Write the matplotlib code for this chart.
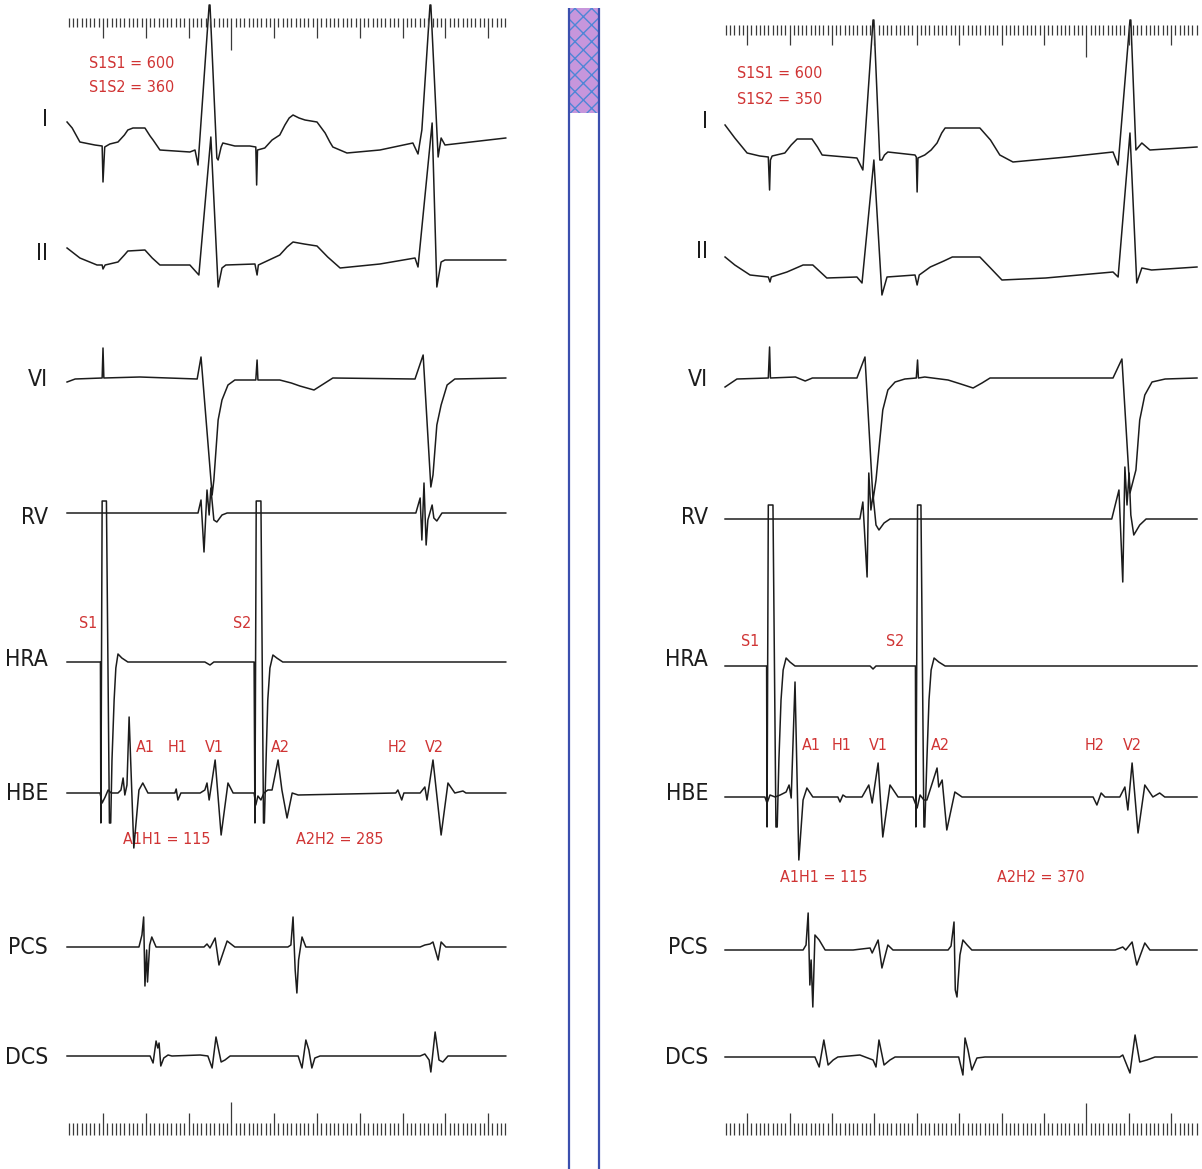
import numpy as np
import matplotlib.pyplot as plt
from matplotlib.patches import Rectangle

W, H = 1202, 1169

CHANNELS = ['I', 'II', 'VI', 'RV', 'HRA', 'HBE', 'PCS', 'DCS']

# ---- left tracing: S1S1 = 600, S1S2 = 360  (time in ms from S1, amplitude in a.u.)
L_I = [(-84, 23), (-72, 17), (-54, 3), (-19, 0), (-2, -1), (0, -37), (4, -2), (16, 1), (35, 3),
       (50, 10), (58, 15), (70, 17), (98, 17), (110, 9), (117, 5), (133, -5), (203, -7), (215, -5),
       (222, -20), (248, 140), (250, 140), (266, -13), (269, -15), (276, -2), (280, 2), (308, -1),
       (343, -1), (357, -2), (359, -40), (361, -5), (378, -3), (395, 5), (413, 10), (425, 20),
       (435, 27), (444, 30), (458, 27), (472, 25), (500, 23), (519, 12), (530, 3), (537, -2),
       (570, -8), (647, -5), (724, 2), (736, -9), (745, 15), (764, 140), (766, 140), (783, -12),
       (790, 7), (799, 0), (941, 7)]
L_II = [(-84, 15), (-54, 5), (-14, -2), (-2, -2), (0, -6), (5, -2), (35, 1), (50, 8), (58, 12),
        (98, 13), (115, 5), (133, -2), (203, -2), (224, -12), (252, 126), (269, -24), (278, -5),
        (287, -2), (355, -1), (360, -12), (363, -2), (378, 1), (413, 8), (430, 16), (444, 21),
        (470, 19), (500, 17), (525, 6), (554, -5), (647, -1), (729, 5), (736, -4), (769, 140),
        (780, -24), (790, 1), (799, 3), (941, 3)]
L_VI = [(-84, -4), (-65, -1), (-2, 0), (0, 30), (2, 0), (86, 1), (220, -1), (229, 21), (255, -117),
        (259, -102), (269, -42), (278, -22), (292, -7), (308, -2), (357, -2), (360, 18), (362, -2),
        (413, -2), (440, -5), (460, -8), (493, -12), (515, -6), (537, 0), (729, -1), (748, 23),
        (766, -109), (771, -97), (780, -47), (790, -27), (804, -7), (822, -1), (941, 0)]
L_RV = [(-84, 0), (222, 0), (229, 13), (236, -39), (243, 23), (248, -2), (252, 25), (259, -7),
        (266, -9), (278, -2), (290, 0), (731, 0), (741, 15), (745, -27), (750, 30), (755, -32),
        (759, -7), (769, 8), (773, -5), (780, -8), (792, 0), (941, 0)]
L_HRA = [(-84, 0), (-6, 0), (-5, -161), (-2, 161), (8, 161), (15, -161), (18, -161), (21, -98),
         (26, -38), (30, -6), (35, 8), (44, 4), (58, 0), (238, 0), (250, -3), (259, 0), (353, 0),
         (355, -161), (358, 161), (369, 161), (375, -161), (377, -161), (381, -98), (385, -38),
         (390, -6), (397, 7), (406, 4), (420, 0), (941, 0)]
L_HBE = [(-84, 0), (-7, 0), (-2, -10), (5, -4), (12, 3), (19, 0), (35, 0), (42, 3), (47, 15),
         (51, -2), (56, 8), (61, 76), (72, -55), (84, 3), (93, 10), (105, 0), (168, 0), (171, 4),
         (175, -7), (182, 0), (227, 0), (238, 3), (243, 10), (248, -7), (262, 33), (276, -42),
         (292, 10), (304, 0), (353, 0), (357, -12), (362, -3), (369, -7), (376, 0), (385, 3),
         (395, 3), (402, 18), (409, 33), (418, 3), (430, -25), (442, 0), (456, -2), (684, 0),
         (689, 3), (698, -7), (703, 0), (741, 0), (752, 6), (757, -7), (771, 33), (790, -42),
         (806, 10), (822, 0), (841, 2), (848, 0), (941, 0)]
L_PCS = [(-84, 0), (84, 0), (91, 12), (95, 30), (98, -39), (102, -3), (104, -35), (109, 2),
         (114, 10), (124, 0), (236, 0), (243, 3), (250, -1), (262, 9), (271, -18), (290, 6),
         (308, 0), (432, 0), (439, 2), (444, 30), (449, -23), (453, -46), (457, -13), (465, 10),
         (474, 0), (741, 0), (752, 2), (764, 3), (771, 5), (783, -13), (790, 5), (801, 0), (941, 0)]
L_DCS = [(-84, 0), (110, 0), (117, -7), (124, 15), (128, 8), (131, 13), (135, -10), (142, -2),
         (152, 1), (161, 0), (227, 1), (245, 0), (255, -12), (264, 19), (276, -6), (285, -4),
         (297, 0), (456, 0), (465, -12), (474, 16), (481, 6), (488, -12), (495, -2), (507, 0),
         (741, 0), (752, 2), (762, -4), (766, -16), (776, 24), (785, -4), (794, -6), (806, 0),
         (941, 0)]

# ---- right tracing: S1S1 = 600, S1S2 = 350
R_I = [(-106, 30), (-83, 17), (-54, 2), (-24, -1), (-4, -2), (-1, -35), (1, -5), (5, -1), (35, 2),
       (50, 10), (64, 16), (99, 16), (112, 8), (123, 0), (205, -3), (219, -15), (243, 135),
       (245, 135), (259, -5), (264, -5), (270, 0), (278, 3), (342, 0), (345, -2), (347, -37),
       (349, -3), (365, 0), (380, 5), (394, 12), (405, 22), (413, 27), (495, 27), (520, 15),
       (542, 0), (573, -7), (700, -2), (809, 3), (821, -10), (849, 135), (851, 135), (863, 5),
       (877, 12), (896, 5), (1007, 8)]
R_II = [(-106, 18), (-83, 10), (-47, 0), (-4, -2), (0, -7), (3, -2), (40, 3), (78, 10), (101, 10),
        (134, -3), (205, -2), (217, -8), (245, 115), (264, -20), (276, -2), (342, 0), (347, -10),
        (352, 0), (378, 8), (410, 14), (430, 18), (495, 18), (520, 7), (547, -5), (650, -3),
        (809, 3), (821, -2), (849, 142), (865, -8), (877, 7), (900, 5), (1007, 8)]
R_VI = [(-106, -9), (-78, -1), (-4, 0), (-1, 31), (1, 0), (60, 1), (83, -3), (100, 0), (205, 0),
        (224, 21), (243, -122), (250, -102), (259, -62), (266, -32), (278, -12), (295, -4),
        (318, -1), (345, 0), (348, 18), (350, 0), (365, 1), (420, -2), (450, -6), (479, -10),
        (500, -5), (519, 0), (809, 0), (830, 19), (849, -115), (863, -92), (872, -42), (884, -17),
        (901, -4), (932, -1), (1007, 0)]
R_RV = [(-106, 0), (212, 0), (219, 17), (229, -58), (233, 46), (238, 9), (243, 24), (250, -6),
        (257, -11), (269, -4), (283, 0), (806, 0), (823, 29), (832, -63), (837, 52), (842, 14),
        (847, 46), (851, 4), (858, -16), (872, -6), (887, 0), (1007, 0)]
R_HRA = [(-106, 0), (-8, 0), (-7, -161), (-4, 161), (7, 161), (14, -161), (17, -161), (21, -94),
         (26, -34), (31, -4), (38, 8), (47, 4), (59, 0), (236, 0), (243, -3), (250, 0), (343, 0),
         (344, -161), (348, 161), (356, 161), (363, -161), (365, -161), (370, -94), (375, -34),
         (380, -4), (387, 8), (398, 4), (413, 0), (1007, 0)]
R_HBE = [(-106, 0), (-12, 0), (-7, -6), (0, 2), (12, 0), (24, 2), (38, 5), (45, 12), (50, -1),
         (59, 115), (68, -63), (78, -3), (87, 9), (101, 0), (160, 0), (165, -5), (172, 2),
         (179, 0), (217, 0), (233, 12), (241, -6), (255, 34), (266, -40), (283, 12), (302, 0),
         (337, 0), (347, -11), (354, 2), (363, -3), (370, -3), (394, 29), (398, 10), (406, 17),
         (417, -33), (436, 5), (453, 0), (762, 0), (771, -8), (781, 4), (790, 0), (825, 0),
         (837, 10), (844, -13), (854, 34), (868, -36), (884, 12), (903, 0), (919, 4), (931, 0),
         (1007, 0)]
R_PCS = [(-106, 0), (78, 0), (85, 5), (90, 37), (94, -35), (97, -10), (101, -57), (106, 15),
         (116, 10), (130, 0), (196, 0), (236, 2), (241, -3), (255, 10), (264, -18), (278, 5),
         (290, 0), (420, 0), (427, 4), (434, 28), (437, -40), (441, -47), (448, -5), (455, 10),
         (465, 5), (476, 0), (814, 0), (832, 3), (839, 0), (854, 8), (865, -15), (884, 7),
         (896, 0), (1007, 0)]
R_DCS = [(-106, 0), (106, 0), (116, -10), (127, 17), (137, -8), (149, -3), (160, 0), (212, 2),
         (243, -3), (250, -10), (257, 17), (269, -8), (283, -3), (295, 0), (445, 0), (455, -18),
         (460, 19), (467, 7), (476, -13), (488, -1), (507, 0), (825, 0), (832, 2), (849, -16),
         (861, 22), (872, -5), (889, -3), (908, 0), (1007, 0)]

LEFT_TRACES = [L_I, L_II, L_VI, L_RV, L_HRA, L_HBE, L_PCS, L_DCS]
RIGHT_TRACES = [R_I, R_II, R_VI, R_RV, R_HRA, R_HBE, R_PCS, R_DCS]

LEFT_INTERVALS = ['S1S1 = 600', 'S1S2 = 360']
RIGHT_INTERVALS = ['S1S1 = 600', 'S1S2 = 350']
LEFT_CONDUCTION = ['A1H1 = 115', 'A2H2 = 285']
RIGHT_CONDUCTION = ['A1H1 = 115', 'A2H2 = 370']
EVENTS = ['A1', 'H1', 'V1', 'A2', 'H2', 'V2']

# layout (pixels)
BASE_L = [145, 263, 378, 513, 662, 793, 947, 1056]
BASE_R = [155, 275, 378, 519, 666, 797, 950, 1057]
LAB_Y_L = [120, 253, 379, 518, 660, 793, 948, 1058]
LAB_Y_R = [121, 252, 380, 517, 660, 793, 948, 1057]

RED = '#d03434'
INK = '#1c1c1c'
FONT = ['DejaVu Sans']

fig = plt.figure(figsize=(W / 100, H / 100), dpi=100)
fig.patch.set_facecolor('white')

over = fig.add_axes([0, 0, 1, 1])
over.set_xlim(0, W)
over.set_ylim(H, 0)
over.axis('off')


def panel(x0, x1, s1_px, px_per_ms):
    ax = fig.add_axes([x0 / W, 0, (x1 - x0) / W, 1])
    ax.set_xlim((x0 - s1_px) / px_per_ms, (x1 - s1_px) / px_per_ms)
    ax.set_ylim(H, 0)
    ax.axis('off')
    ax.patch.set_alpha(0)
    return ax


def draw_traces(ax, traces, bases):
    for tr, b in zip(traces, bases):
        arr = np.array(tr, dtype=float)
        ax.plot(arr[:, 0], b - arr[:, 1], color=INK, lw=1.1, solid_joinstyle='round')


def ruler(ax, ticks, offset, long_at, top, bottom):
    for t in ticks:
        k = int(round(t - offset))
        if k == long_at:
            lt, lb = top[2], bottom[2]
        elif k % 100 == 0:
            lt, lb = top[1], bottom[1]
        else:
            lt, lb = top[0], bottom[0]
        ax.vlines(t, top[3], lt, color='#3a3a3a', lw=0.9)
        ax.vlines(t, lb, bottom[3], color='#3a3a3a', lw=0.9)


axl = panel(0, 540, 103, 0.428)
axr = panel(600, 1202, 770, 0.424)

draw_traces(axl, LEFT_TRACES, BASE_L)
draw_traces(axr, RIGHT_TRACES, BASE_R)

ruler(axl, np.arange(-80, 950, 10), 0, 300, (27, 38, 50, 18), (1123, 1113, 1102, 1135))
ruler(axr, np.arange(-104, 1010, 10), -54, 800, (35, 45, 57, 25), (1123, 1113, 1103, 1135))

lab = dict(ha='right', va='center', fontsize=16.5, family=FONT, stretch='condensed', color=INK)
for name, y in zip(CHANNELS, LAB_Y_L):
    over.text(48, y, name, **lab)
for name, y in zip(CHANNELS, LAB_Y_R):
    over.text(708, y, name, **lab)

red = dict(va='center', family=FONT, stretch='condensed', color=RED)
for txt, y in zip(LEFT_INTERVALS, [63, 87]):
    over.text(89, y, txt, ha='left', fontsize=11.5, **red)
for txt, y in zip(RIGHT_INTERVALS, [74, 99]):
    over.text(737, y, txt, ha='left', fontsize=11.5, **red)

over.text(88, 624, 'S1', ha='center', fontsize=11.5, **red)
over.text(242, 623, 'S2', ha='center', fontsize=11.5, **red)
over.text(750, 642, 'S1', ha='center', fontsize=11.5, **red)
over.text(895, 642, 'S2', ha='center', fontsize=11.5, **red)

for ev, x in zip(EVENTS, [145, 178, 214, 280, 398, 434]):
    over.text(x, 748, ev, ha='center', fontsize=11.5, **red)
for ev, x in zip(EVENTS, [811, 842, 878, 940, 1095, 1132]):
    over.text(x, 746, ev, ha='center', fontsize=11.5, **red)

for txt, x in zip(LEFT_CONDUCTION, [167, 340]):
    over.text(x, 840, txt, ha='center', fontsize=11.5, **red)
for txt, x in zip(RIGHT_CONDUCTION, [824, 1041]):
    over.text(x, 878, txt, ha='center', fontsize=11.5, **red)

# page gutter between the two tracings
over.add_patch(Rectangle((569, 8), 29, 105, facecolor='#c796dc', edgecolor='#4f86d6',
                         hatch='xx', lw=0))
over.vlines([568.5, 598.5], 8, H, color='#3b4fae', lw=1.6)

fig.savefig('out.png', dpi=100, facecolor='white')
